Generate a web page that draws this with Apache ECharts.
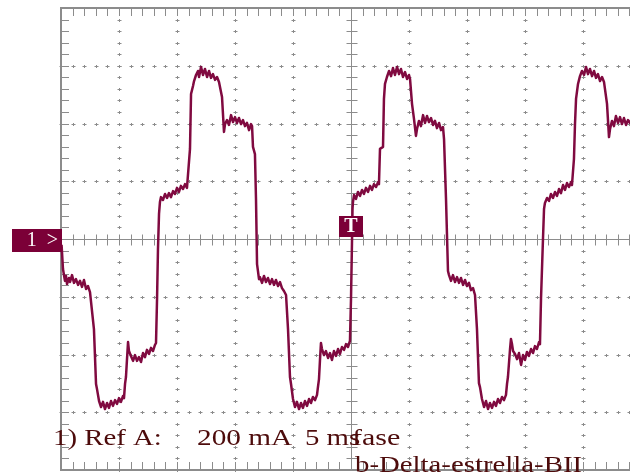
<!DOCTYPE html>
<html>
<head>
<meta charset="utf-8">
<script src="https://cdn.jsdelivr.net/npm/echarts@6/dist/echarts.min.js"></script>
<style>
  html, body { margin: 0; padding: 0; background: #fff; }
  #scope { width: 630px; height: 476px; }
</style>
</head>
<body>
<div id="scope"></div>
<script>
// screen: 10 div x 5 ms, 8 div x 200 mA
const timeMax = 50;
const ampMax = 800;
const timeDiv = 5;
const ampDiv = 200;
const minorPerDiv = 5;

// trace, [ms, mA]
const cycle1 = [
  [0.05, -20], [0.17, -104], [0.34, -145], [0.43, -128], [0.52, -156], [0.69, -135], [0.78, -149],
  [0.95, -125], [1.12, -152], [1.29, -139], [1.47, -159], [1.64, -145], [1.81, -166], [1.98, -142],
  [2.16, -173], [2.33, -163], [2.5, -184], [2.67, -190], [2.84, -312], [3.02, -502], [3.1, -519],
  [3.28, -561], [3.45, -582], [3.62, -564], [3.79, -589], [3.97, -568], [4.14, -585], [4.31, -561],
  [4.48, -578], [4.66, -558], [4.83, -571], [5.0, -551], [5.17, -564], [5.34, -544], [5.43, -551],
  [5.52, -502], [5.6, -478], [5.69, -416], [5.78, -357], [5.86, -388], [6.03, -405], [6.21, -422],
  [6.38, -402], [6.55, -422], [6.72, -409], [6.9, -426], [7.07, -395], [7.24, -409], [7.41, -384],
  [7.59, -398], [7.76, -377], [7.93, -388], [8.1, -367], [8.19, -360], [8.28, -208], [8.36, -35],
  [8.45, 87], [8.53, 128], [8.62, 145], [8.79, 135], [8.97, 156], [9.14, 142], [9.31, 159],
  [9.48, 145], [9.66, 166], [9.83, 156], [10.0, 177], [10.17, 163], [10.34, 184], [10.52, 173],
  [10.69, 190], [10.86, 177], [11.03, 180], [11.12, 312], [11.21, 502], [11.38, 530], [11.47, 547],
  [11.64, 568], [11.81, 582], [11.9, 561], [12.07, 596], [12.24, 568], [12.41, 589], [12.59, 561],
  [12.76, 582], [12.93, 558], [13.1, 571], [13.28, 551], [13.45, 561], [13.62, 544], [13.71, 547],
  [13.88, 492], [14.05, 371], [14.14, 398], [14.31, 412], [14.48, 395], [14.66, 429], [14.83, 405],
  [15.0, 422], [15.17, 402], [15.34, 419], [15.52, 398], [15.69, 412], [15.86, 391], [16.03, 402],
  [16.21, 377], [16.38, 398], [16.47, 391], [16.55, 319], [16.72, 294], [16.81, 139], [16.9, -87],
  [16.98, -111], [17.07, -139]
];

const cycle2 = [
  [17.15, -132], [17.33, -152], [17.5, -128], [17.67, -149], [17.84, -135], [18.02, -156], [18.19, -139],
  [18.36, -159], [18.53, -142], [18.71, -163], [18.88, -149], [19.05, -170], [19.22, -180], [19.4, -194],
  [19.57, -312], [19.74, -478], [19.83, -502], [20.0, -554], [20.17, -582], [20.34, -564], [20.52, -589],
  [20.69, -568], [20.86, -585], [21.03, -561], [21.21, -578], [21.38, -554], [21.55, -568], [21.72, -547],
  [21.9, -558], [22.07, -540], [22.15, -513], [22.24, -485], [22.33, -416], [22.41, -360], [22.5, -381],
  [22.67, -402], [22.84, -388], [23.02, -412], [23.19, -395], [23.36, -419], [23.53, -388], [23.71, -405],
  [23.88, -381], [24.05, -398], [24.22, -374], [24.4, -384], [24.57, -364], [24.74, -374], [24.91, -353],
  [25.0, -208], [25.09, 0], [25.13, 104], [25.17, 128], [25.26, 152], [25.43, 139], [25.6, 163],
  [25.78, 149], [25.95, 170], [26.12, 156], [26.29, 177], [26.47, 163], [26.64, 184], [26.81, 170],
  [26.98, 190], [27.16, 180], [27.33, 197], [27.41, 190], [27.5, 312], [27.59, 312], [27.76, 319],
  [27.84, 485], [27.93, 537], [28.1, 561], [28.28, 582], [28.45, 564], [28.62, 592], [28.79, 568],
  [28.97, 596], [29.14, 571], [29.31, 589], [29.48, 561], [29.66, 578], [29.83, 554], [30.0, 568],
  [30.09, 554], [30.26, 468], [30.43, 416], [30.6, 357], [30.69, 381], [30.86, 409], [31.03, 391],
  [31.21, 429], [31.38, 402], [31.55, 426], [31.72, 405], [31.9, 419], [32.07, 395], [32.24, 409],
  [32.41, 384], [32.59, 402], [32.76, 377], [32.93, 388], [33.02, 346], [33.19, 139], [33.36, -111]
];

const cycle3 = [
  [33.45, -125], [33.62, -145], [33.79, -125], [33.97, -149], [34.14, -132], [34.31, -152], [34.48, -135],
  [34.66, -159], [34.83, -142], [35.0, -163], [35.17, -152], [35.34, -177], [35.52, -170], [35.69, -194],
  [35.86, -312], [36.03, -499], [36.12, -513], [36.29, -554], [36.47, -582], [36.64, -561], [36.81, -589],
  [36.98, -568], [37.16, -585], [37.33, -564], [37.5, -578], [37.67, -554], [37.84, -568], [38.02, -547],
  [38.19, -558], [38.36, -540], [38.45, -502], [38.53, -478], [38.71, -381], [38.79, -346], [38.88, -364],
  [38.97, -388], [39.14, -398], [39.31, -416], [39.48, -395], [39.66, -436], [39.83, -402], [40.0, -419],
  [40.17, -391], [40.34, -405], [40.52, -381], [40.69, -395], [40.86, -371], [41.03, -381], [41.21, -357],
  [41.29, -364], [41.38, -208], [41.55, 0], [41.64, 104], [41.72, 125], [41.9, 142], [42.07, 132],
  [42.24, 156], [42.41, 142], [42.59, 163], [42.76, 149], [42.93, 173], [43.1, 159], [43.28, 187],
  [43.45, 170], [43.62, 194], [43.79, 180], [43.97, 197], [44.05, 187], [44.22, 277], [44.31, 398],
  [44.4, 485], [44.57, 537], [44.74, 564], [44.91, 582], [45.09, 568], [45.26, 596], [45.43, 571],
  [45.6, 589], [45.78, 564], [45.95, 582], [46.12, 558], [46.29, 571], [46.47, 547], [46.64, 561],
  [46.81, 544], [46.9, 540], [47.07, 468], [47.24, 353], [47.33, 381], [47.5, 409], [47.67, 391],
  [47.84, 426], [48.02, 402], [48.19, 422], [48.36, 398], [48.53, 419], [48.71, 395], [48.88, 412],
  [49.05, 402], [49.22, 416]
];

const readout1 = ['1) Ref A:', '200 mA', '5 ms', 'fase'];
const readout2 = 'b-Delta-estrella-BII';

const traceColor = '#800a40';
const markColor = '#7b0037';
const gridGray = '#8c8c8c';
const textColor = '#4d0b0b';

const crisp = v => Math.round(v) + 0.5;

// graticule: border + center axes with minor ticks, dotted crosses elsewhere
function drawGraticule(params, api) {
  const [xl, yt] = api.coord([0, ampMax]);
  const [xr, yb] = api.coord([timeMax, -ampMax]);
  const [xc, yc] = api.coord([timeMax / 2, 0]);
  const tStep = timeDiv / minorPerDiv;
  const aStep = ampDiv / minorPerDiv;
  let fine = '';
  const seg = (x1, y1, x2, y2) => { fine += 'M' + x1 + ' ' + y1 + 'L' + x2 + ' ' + y2; };

  seg(xl, crisp(yc), xr, crisp(yc));
  seg(crisp(xc), yt, crisp(xc), yb);

  for (let k = 0; k <= timeMax / tStep; k++) {
    const x = crisp(api.coord([k * tStep, 0])[0]);
    seg(x, yt, x, yt + 8);
    seg(x, yb, x, yb - 8);
    seg(x, crisp(yc) - 5, x, crisp(yc) + 6);
    for (let a = -ampMax + ampDiv; a < ampMax; a += ampDiv) {
      if (a === 0) continue;
      const y = crisp(api.coord([0, a])[1]);
      seg(x - 2, y, x + 2, y);
      seg(x, y - 1.5, x, y + 1.5);
    }
  }
  for (let k = 0; k <= (2 * ampMax) / aStep; k++) {
    const y = crisp(api.coord([0, -ampMax + k * aStep])[1]);
    seg(xl, y, xl + 8, y);
    seg(crisp(xc) - 5, y, crisp(xc) + 6, y);
    for (let t = timeDiv; t < timeMax; t += timeDiv) {
      if (t === timeMax / 2) continue;
      const x = crisp(api.coord([t, 0])[0]);
      seg(x - 2, y, x + 2, y);
      seg(x, y - 1.5, x, y + 1.5);
    }
  }

  return {
    type: 'group',
    children: [
      { type: 'path', shape: { pathData: fine }, style: { stroke: gridGray, lineWidth: 1, fill: null } },
      { type: 'rect', shape: { x: xl, y: yt, width: xr - xl, height: yb - yt },
        style: { stroke: gridGray, lineWidth: 2, fill: null } }
    ]
  };
}

// channel marker "1 >" on the zero level and trigger "T" at screen center
function drawMarkers(params, api) {
  const [xl, y0] = api.coord([0, 0]);
  const [xc] = api.coord([timeMax / 2, 0]);
  return {
    type: 'group',
    children: [
      { type: 'rect', shape: { x: xl - 49, y: y0 - 10, width: 50, height: 23 }, style: { fill: markColor } },
      { type: 'text', x: xl - 3, y: y0 + 2,
        style: { text: '1  >', fill: '#fff', font: '20px "Liberation Serif"', align: 'right', verticalAlign: 'middle' } },
      { type: 'rect', shape: { x: xc - 12, y: y0 - 23, width: 24, height: 21 }, style: { fill: markColor } },
      { type: 'text', x: xc, y: y0 - 12,
        style: { text: 'T', fill: '#fff', font: 'bold 20px "Liberation Serif"', align: 'center', verticalAlign: 'middle' } }
    ]
  };
}

const chart = echarts.init(document.getElementById('scope'));

const readFont = '24px "Liberation Serif"';
chart.setOption({
  animation: false,
  backgroundColor: '#fff',
  grid: { left: 61, top: 8, width: 580, height: 462, outerBoundsMode: 'none' },
  xAxis: { type: 'value', min: 0, max: timeMax, show: false },
  yAxis: { type: 'value', min: -ampMax, max: ampMax, show: false },
  graphic: [
    { type: 'text', x: 53, y: 439, scaleX: 1.2, z: 20,
      style: { text: readout1[0], font: readFont, fill: textColor, verticalAlign: 'middle' } },
    { type: 'text', x: 197, y: 439, scaleX: 1.22, z: 20,
      style: { text: readout1[1], font: readFont, fill: textColor, verticalAlign: 'middle' } },
    { type: 'text', x: 305, y: 439, scaleX: 1.2, z: 20,
      style: { text: readout1[2], font: readFont, fill: textColor, verticalAlign: 'middle' } },
    { type: 'text', x: 352, y: 439, scaleX: 1.25, z: 20,
      style: { text: readout1[3], font: readFont, fill: textColor, verticalAlign: 'middle' } },
    { type: 'text', x: 355, y: 466, scaleX: 1.2, z: 20,
      style: { text: readout2, font: readFont, fill: textColor, verticalAlign: 'middle' } }
  ],
  series: [
    {
      type: 'custom',
      z: 1,
      silent: true,
      data: [[0, 0]],
      renderItem: drawGraticule
    },
    {
      type: 'line',
      z: 5,
      data: cycle1.concat(cycle2, cycle3),
      showSymbol: false,
      smooth: false,
      lineStyle: { color: traceColor, width: 2.5, join: 'round' }
    },
    {
      type: 'custom',
      z: 10,
      silent: true,
      clip: false,
      data: [[0, 0]],
      renderItem: drawMarkers
    }
  ]
});
</script>
</body>
</html>
